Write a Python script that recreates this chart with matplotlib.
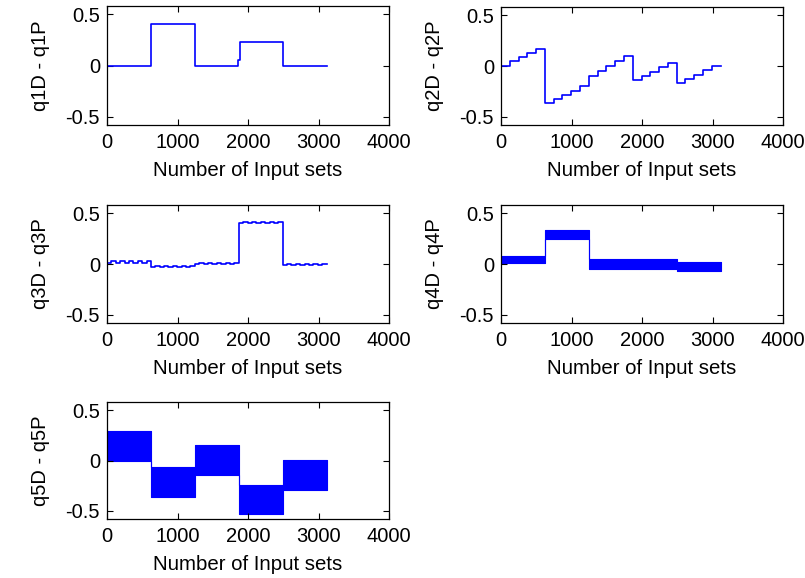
import numpy as np
import matplotlib
matplotlib.use("Agg")
import matplotlib.pyplot as plt

plt.rcParams['font.family'] = ['Liberation Sans', 'DejaVu Sans']
plt.rcParams['axes.unicode_minus'] = False

# ---------------- data ----------------
n_total = 3115
n_seg = 5

xlabel_text = "Number of Input sets"
ylabels = ["q1D - q1P", "q2D - q2P", "q3D - q3P", "q4D - q4P", "q5D - q5P"]
xticks = [0, 1000, 2000, 3000, 4000]
yticks = [-0.5, 0, 0.5]
ytick_labels = ["-0.5", "0", "0.5"]

# q1: piecewise constant (break points, values)
q1_edges = [0, 623, 1246, 1860, 1884, 2490, 3115]
q1_vals = [0.0, 0.40, 0.0, 0.05, 0.23, 0.0]

# q2: 25 steps (5 per segment)
q2_vals = [0.0, 0.045, 0.09, 0.126, 0.168,
           -0.365, -0.32, -0.287, -0.242, -0.197,
           -0.094, -0.045, 0.0, 0.048, 0.094,
           -0.139, -0.094, -0.058, -0.013, 0.032,
           -0.165, -0.123, -0.09, -0.042, 0.0]

# q3: 50 half-steps with small ripple
q3_vals = [0.012, 0.025, 0.012, 0.025, 0.012, 0.025, 0.012, 0.025, 0.012, 0.025,
           -0.025, -0.015, -0.025, -0.015, -0.025, -0.015, -0.025, -0.015, -0.025, -0.015,
           0.0, 0.012, 0.0, 0.012, 0.0, 0.012, 0.0, 0.012, 0.0, 0.012,
           0.40, 0.415, 0.40, 0.415, 0.40, 0.415, 0.40, 0.415, 0.40, 0.415,
           -0.008, 0.002, -0.008, 0.002, -0.008, 0.002, -0.008, 0.002, -0.008, 0.002]

# q4: fast oscillation -> band envelope per segment
q4_low = [0.005, 0.245, -0.045, -0.045, -0.07]
q4_high = [0.075, 0.33, 0.045, 0.045, 0.015]

# q5: fast oscillation -> band envelope per segment
q5_low = [0.0, -0.364, -0.142, -0.535, -0.288]
q5_high = [0.288, -0.069, 0.149, -0.241, 0.007]

# ---------------- figure ----------------
W, H = 805, 578
fig = plt.figure(figsize=(W / 100, H / 100), dpi=100)

def rect(left, top, right, bottom):
    return [left / W, 1 - bottom / H, (right - left) / W, (bottom - top) / H]

rects = [rect(107, 6, 389, 125), rect(501, 7, 783, 125),
         rect(107, 205, 389, 323), rect(501, 205, 783, 323),
         rect(107, 402, 389, 519)]

blue = '#0000ff'
seg_edges = np.linspace(0, n_total, n_seg + 1)

def step_line(ax, edges, vals):
    ax.step(edges, list(vals) + [vals[-1]], where='post', color=blue, lw=1.2)

def band(ax, edges, lo, hi):
    ax.fill_between(edges, list(lo) + [lo[-1]], list(hi) + [hi[-1]], step='post',
                    color=blue, lw=0.8, edgecolor=blue)

axes = [fig.add_axes(r) for r in rects]

step_line(axes[0], q1_edges, q1_vals)
step_line(axes[1], np.linspace(0, n_total, len(q2_vals) + 1), q2_vals)
step_line(axes[2], np.linspace(0, n_total, len(q3_vals) + 1), q3_vals)
band(axes[3], seg_edges, q4_low, q4_high)
band(axes[4], seg_edges, q5_low, q5_high)

for ax, yl in zip(axes, ylabels):
    ax.set_xlim(0, 4000)
    ax.set_ylim(-0.58, 0.58)
    ax.set_xticks(xticks)
    ax.set_yticks(yticks)
    ax.set_yticklabels(ytick_labels)
    ax.tick_params(direction='in', top=True, right=True, length=4, width=0.8,
                   labelsize=14.5, colors='black')
    ax.tick_params(axis='x', pad=6)
    ax.tick_params(axis='y', pad=5)
    for s in ax.spines.values():
        s.set_linewidth(0.9)
        s.set_color('black')
    ax.set_xlabel(xlabel_text, fontsize=14.7, labelpad=6)
    ax.set_ylabel(yl, fontsize=14.5, labelpad=11)

fig.savefig("out.png", dpi=100)
